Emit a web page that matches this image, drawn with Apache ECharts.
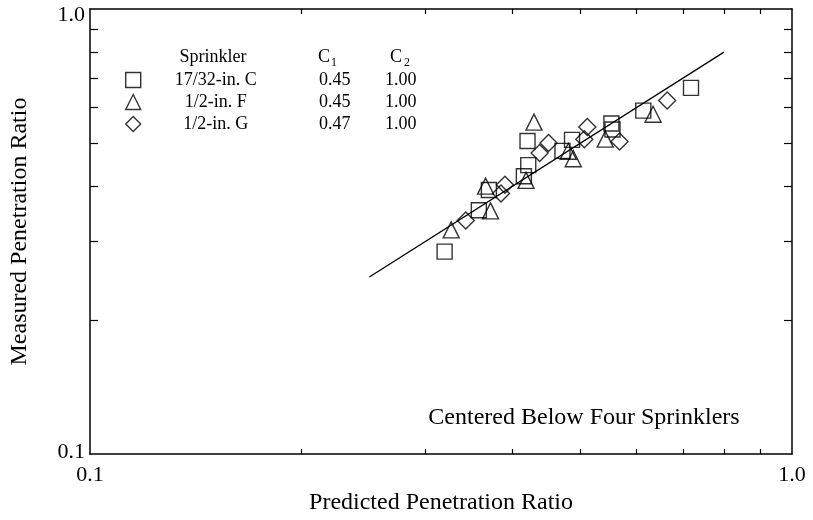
<!DOCTYPE html>
<html>
<head>
<meta charset="utf-8">
<script src="https://cdn.jsdelivr.net/npm/echarts@6/dist/echarts.min.js"></script>
<style>
  html, body { margin: 0; padding: 0; background: #fff; }
  #chart { width: 813px; height: 520px; }
</style>
</head>
<body>
<div id="chart"></div>
<script>
// legend table
const sprinklerNames = ['17/32-in. C', '1/2-in. F', '1/2-in. G'];
const c1Values = ['0.45', '0.45', '0.47'];
const c2Values = ['1.00', '1.00', '1.00'];

// 17/32-in. C  (squares)
const squareX = [0.320, 0.358, 0.370, 0.415, 0.421, 0.420, 0.471, 0.486, 0.553, 0.555, 0.614, 0.718];
const squareY = [0.285, 0.353, 0.392, 0.421, 0.446, 0.505, 0.480, 0.508, 0.553, 0.536, 0.591, 0.665];
// 1/2-in. F  (triangles)
const triangleX = [0.327, 0.366, 0.372, 0.418, 0.429, 0.480, 0.488, 0.542, 0.634];
const triangleY = [0.319, 0.400, 0.352, 0.412, 0.557, 0.479, 0.461, 0.510, 0.580];
// 1/2-in. G  (diamonds)
const diamondX = [0.343, 0.385, 0.390, 0.437, 0.450, 0.506, 0.511, 0.568, 0.664];
const diamondY = [0.335, 0.385, 0.403, 0.475, 0.500, 0.510, 0.543, 0.504, 0.623];

// fitted line
const fitX = [0.25, 0.8];
const fitY = [0.25, 0.8];

// log ticks between the decades
const minorTickValues = [0.2, 0.3, 0.4, 0.5, 0.6, 0.7, 0.8, 0.9];

const font = 'Liberation Serif';
const black = '#000';

function zip(xs, ys) {
  return xs.map((x, i) => [x, ys[i]]);
}

function logAxis(position, tickLen, opts) {
  return Object.assign({
    type: 'log',
    logBase: 10,
    position: position,
    min: 0.1,
    max: 1,
    splitLine: { show: false },
    axisLine: { show: true, lineStyle: { color: black, width: 1.5 } },
    axisTick: {
      show: true, inside: true, length: tickLen, customValues: minorTickValues,
      lineStyle: { color: black, width: 1.2 }
    },
    axisLabel: { show: false }
  }, opts);
}

const hollow = { color: 'rgba(0,0,0,0)', borderColor: black, borderWidth: 1.4 };

const chart = echarts.init(document.getElementById('chart'));
chart.setOption({
  animation: false,
  backgroundColor: '#fff',
  grid: { left: 88, right: 21, top: 9, bottom: 60 },
  xAxis: [
    logAxis('bottom', 5, {
      name: 'Predicted Penetration Ratio',
      nameLocation: 'middle',
      nameGap: 32,
      nameTextStyle: { fontFamily: font, fontSize: 24, color: black },
      axisLabel: {
        show: true, margin: 10, fontFamily: font, fontSize: 22, color: black,
        formatter: v => v.toFixed(1)
      }
    }),
    logAxis('top', 5, {})
  ],
  yAxis: [
    logAxis('left', 8, {
      name: 'Measured Penetration Ratio',
      nameLocation: 'middle',
      nameGap: 58,
      nameTextStyle: { fontFamily: font, fontSize: 24, color: black },
      axisLabel: {
        show: true, margin: 5, fontFamily: font, fontSize: 22, color: black,
        formatter: v => v >= 1 ? '{hi|' + v.toFixed(1) + '}' : '{lo|' + v.toFixed(1) + '}',
        rich: {
          hi: { fontFamily: font, fontSize: 22, color: black, padding: [12, 0, 0, 0] },
          lo: { fontFamily: font, fontSize: 22, color: black, padding: [0, 0, 3, 0] }
        }
      }
    }),
    logAxis('right', 8, {})
  ],
  legend: {
    orient: 'vertical',
    left: 120,
    top: 66,
    itemWidth: 15,
    itemHeight: 15,
    itemGap: 4,
    itemStyle: hollow,
    data: ['rect', 'triangle', 'diamond'].map((s, i) => ({ name: sprinklerNames[i], icon: s })),
    formatter: name => {
      const i = sprinklerNames.indexOf(name);
      return '{n|' + name + '}{a|' + c1Values[i] + '}{b|' + c2Values[i] + '}';
    },
    textStyle: {
      fontFamily: font, fontSize: 18, color: black,
      rich: {
        n: { fontFamily: font, fontSize: 18, width: 140, align: 'center', lineHeight: 18 },
        a: { fontFamily: font, fontSize: 18, width: 98, align: 'center', lineHeight: 18 },
        b: { fontFamily: font, fontSize: 18, width: 34, align: 'center', lineHeight: 18 }
      }
    }
  },
  graphic: [
    { type: 'text', x: 213, y: 57, style: { text: 'Sprinkler', font: '18px "Liberation Serif"', fill: black, align: 'center', verticalAlign: 'middle' } },
    { type: 'text', x: 324, y: 57, style: { text: 'C', font: '18px "Liberation Serif"', fill: black, align: 'center', verticalAlign: 'middle' } },
    { type: 'text', x: 334, y: 63, style: { text: '1', font: '12px "Liberation Serif"', fill: black, align: 'center', verticalAlign: 'middle' } },
    { type: 'text', x: 396, y: 57, style: { text: 'C', font: '18px "Liberation Serif"', fill: black, align: 'center', verticalAlign: 'middle' } },
    { type: 'text', x: 407, y: 63, style: { text: '2', font: '12px "Liberation Serif"', fill: black, align: 'center', verticalAlign: 'middle' } },
    { type: 'text', x: 584, y: 418, style: { text: 'Centered Below Four Sprinklers', font: '24px "Liberation Serif"', fill: black, align: 'center', verticalAlign: 'middle' } }
  ],
  series: [
    {
      name: sprinklerNames[0], type: 'scatter', symbol: 'rect', symbolSize: 15,
      itemStyle: hollow, data: zip(squareX, squareY)
    },
    {
      name: sprinklerNames[1], type: 'scatter', symbol: 'triangle', symbolSize: 16,
      itemStyle: hollow, data: zip(triangleX, triangleY)
    },
    {
      name: sprinklerNames[2], type: 'scatter', symbol: 'diamond', symbolSize: 17,
      itemStyle: hollow, data: zip(diamondX, diamondY)
    },
    {
      type: 'line', symbol: 'none', silent: true,
      lineStyle: { color: black, width: 1.3 },
      data: zip(fitX, fitY)
    }
  ]
});
</script>
</body>
</html>
